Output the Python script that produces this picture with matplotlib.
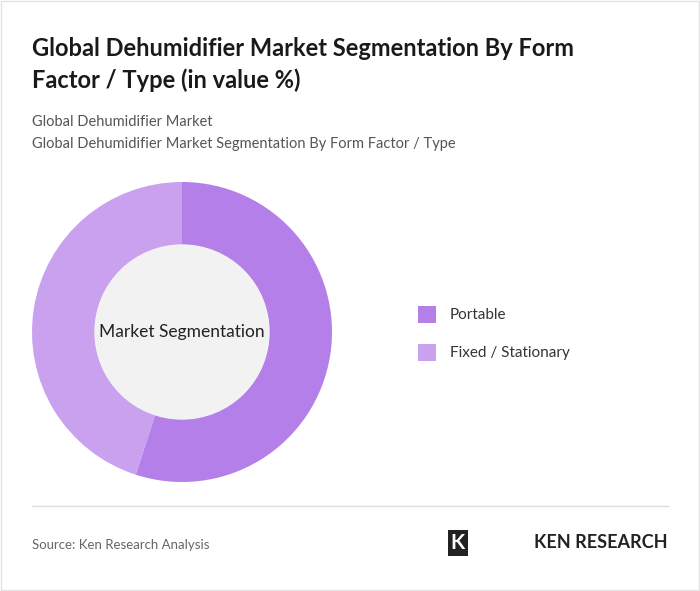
import matplotlib.pyplot as plt
from matplotlib.patches import Rectangle, Circle

labels = ['Portable', 'Fixed / Stationary']
values = [55, 45]
colors = ['#b57fea', '#c9a1ef']

plt.rcParams['font.family'] = ['Lato', 'DejaVu Sans']

fig = plt.figure(figsize=(7, 5.91), dpi=100)
fig.patch.set_facecolor('white')
fig.add_artist(Rectangle((0.001, 0.001), 0.998, 0.998, transform=fig.transFigure,
                         fill=False, edgecolor='#e3e3e3', lw=1))

fig.text(32/700, 1 - 48/591, 'Global Dehumidifier Market Segmentation By Form',
         fontsize=17, fontweight='bold', color='#1a1a1a', va='center')
fig.text(32/700, 1 - 80/591, 'Factor / Type (in value %)',
         fontsize=17, fontweight='bold', color='#1a1a1a', va='center')
fig.text(32/700, 1 - 122/591, 'Global Dehumidifier Market', fontsize=10.5, color='#555555', va='center')
fig.text(32/700, 1 - 144/591, 'Global Dehumidifier Market Segmentation By Form Factor / Type',
         fontsize=10.5, color='#555555', va='center')

# donut
r = 150 / 591 * 5.91
ax = fig.add_axes([(182 - 152) / 700, 1 - (332 + 152) / 591, 304 / 700, 304 / 591])
ax.pie(values, colors=colors, startangle=90, counterclock=False,
       wedgeprops=dict(width=63 / 150, edgecolor='none'), radius=1)
ax.add_patch(Circle((0, 0), 87 / 150, color='#f2f2f2', zorder=3))
ax.text(0, 0, 'Market Segmentation', ha='center', va='center', fontsize=12.5,
        color='#222222', zorder=4)
ax.set_xlim(-152 / 150, 152 / 150)
ax.set_ylim(-152 / 150, 152 / 150)
ax.set_aspect('equal')
ax.axis('off')

# legend
for i, (lab, c) in enumerate(zip(labels, colors)):
    y = 315 + i * 38
    fig.add_artist(Rectangle((418 / 700, 1 - (y + 8) / 591), 18 / 700, 17 / 591,
                             transform=fig.transFigure, facecolor=c, edgecolor='none'))
    fig.text(450 / 700, 1 - y / 591, lab, fontsize=11, color='#333333', va='center')

fig.add_artist(plt.Line2D([32 / 700, 668 / 700], [1 - 506 / 591] * 2,
                          transform=fig.transFigure, color='#dddddd', lw=1))
fig.text(32 / 700, 1 - 545 / 591, 'Source: Ken Research Analysis', fontsize=9.5,
         color='#666666', va='center')
fig.text(668 / 700, 1 - 543 / 591, 'KEN RESEARCH', fontsize=13, fontweight='bold',
         color='#222222', ha='right', va='center')
fig.text(458 / 700, 1 - 543 / 591, 'K', fontsize=15, fontweight='bold',
         color='white', ha='center', va='center',
         bbox=dict(boxstyle='square,pad=0.15', facecolor='#222222', edgecolor='none'))

fig.savefig('out.png', dpi=100, facecolor='white')
